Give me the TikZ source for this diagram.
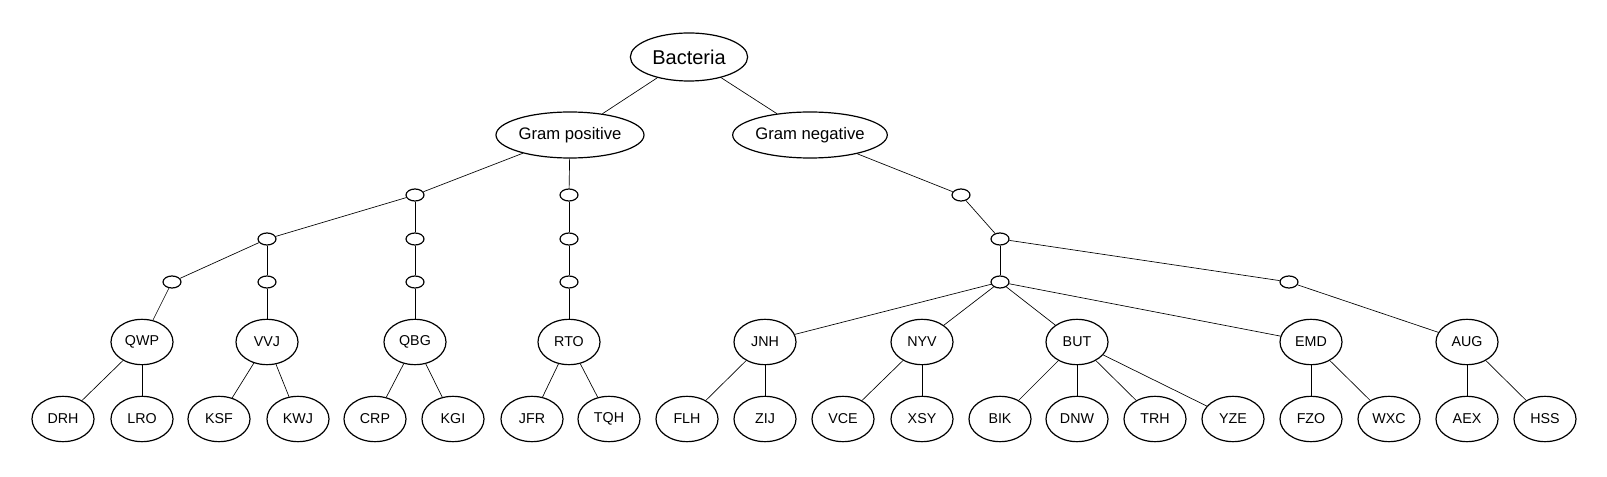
\documentclass[tikz,border=0pt]{standalone}
\usepackage{fontspec}
\setmainfont{Liberation Sans}
\usetikzlibrary{shapes.geometric}

\begin{document}
\begin{tikzpicture}[x=0.75pt, y=-0.75pt, line width=0.5pt,
    taxon node/.style={ellipse, draw, line width=0.9pt, inner sep=0pt, minimum width=46.5pt, minimum height=34pt, font=\fontsize{10.7}{12}\selectfont},
    gram node/.style={taxon node, minimum width=111pt, minimum height=34.5pt, font=\fontsize{12.5}{14}\selectfont},
    root node/.style={taxon node, minimum width=88pt, minimum height=36pt, font=\fontsize{15}{17}\selectfont},
    split node/.style={ellipse, draw, line width=0.9pt, inner sep=0pt, minimum width=13.5pt, minimum height=9pt}]

    \useasboundingbox (0,0) rectangle (1607,477);

    \node[root node] (Bac) at (689,57) {Bacteria};
    \node[gram node] (GramPos) at (570,135) {Gram positive};
    \node[gram node] (GramNeg) at (810,135) {Gram negative};

    % Gram positive splits
    \node[split node] (p1) at (415,195) {};
    \node[split node] (p2) at (267,239) {};
    \node[split node] (p3) at (415,239) {};
    \node[split node] (p4) at (172,282) {};
    \node[split node] (p5) at (267,282) {};
    \node[split node] (p6) at (415,282) {};
    \node[split node] (q1) at (569,195) {};
    \node[split node] (q2) at (569,239) {};
    \node[split node] (q3) at (569,282) {};

    % Gram negative splits
    \node[split node] (n1) at (961,195) {};
    \node[split node] (n2) at (1000,239) {};
    \node[split node] (n3) at (1000,282) {};
    \node[split node] (n4) at (1289,282) {};

    % Named groups
    \foreach \lbl/\x in {QWP/142, VVJ/267, QBG/415, RTO/569, JNH/765, NYV/922, BUT/1077, EMD/1311, AUG/1467}
        \node[taxon node] (\lbl) at (\x,342) {\lbl};

    % Leaves
    \foreach \lbl/\x in {DRH/63, LRO/142, KSF/219, KWJ/298, CRP/375, KGI/453, JFR/532, TQH/609, FLH/687, ZIJ/765,
                         VCE/843, XSY/922, BIK/1000, DNW/1077, TRH/1155, YZE/1233, FZO/1311, WXC/1389, AEX/1467, HSS/1545}
        \node[taxon node] (\lbl) at (\x,419) {\lbl};

    % Upper tree
    \path
        (Bac) edge (GramPos)
        (Bac) edge (GramNeg)
        (GramPos) edge (p1)
        (GramPos) edge (q1)
        (p1) edge (p2)
        (p1) edge (p3)
        (p2) edge (p4)
        (p2) edge (p5)
        (p3) edge (p6)
        (p4) edge (QWP)
        (p5) edge (VVJ)
        (p6) edge (QBG)
        (q1) edge (q2)
        (q2) edge (q3)
        (q3) edge (RTO)
        (GramNeg) edge (n1)
        (n1) edge (n2)
        (n2) edge (n3)
        (n2) edge (n4)
        (n3) edge (JNH)
        (n3) edge (NYV)
        (n3) edge (BUT)
        (n3) edge (EMD)
        (n4) edge (AUG);

    % Group to leaf
    \foreach \a/\b in {QWP/DRH, QWP/LRO, VVJ/KSF, VVJ/KWJ, QBG/CRP, QBG/KGI, RTO/JFR, RTO/TQH, JNH/FLH, JNH/ZIJ,
                       NYV/VCE, NYV/XSY, BUT/BIK, BUT/DNW, BUT/TRH, BUT/YZE, EMD/FZO, EMD/WXC, AUG/AEX, AUG/HSS}
        \draw (\a) -- (\b);

\end{tikzpicture}
\end{document}
